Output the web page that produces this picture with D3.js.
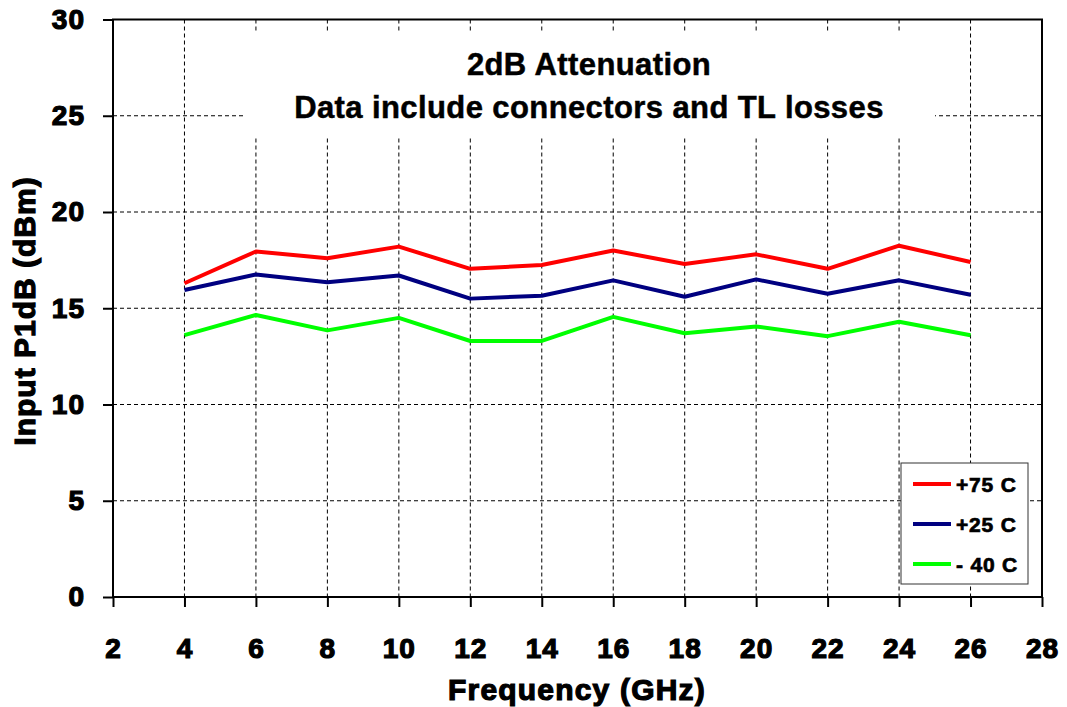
<!DOCTYPE html>
<html>
<head>
<meta charset="utf-8">
<script src="https://cdn.jsdelivr.net/npm/d3@7"></script>
<style>
  html, body { margin: 0; padding: 0; background: #fff; }
  svg { display: block; font-family: "Liberation Sans", Arial, sans-serif; }
</style>
</head>
<body>
<svg id="chart" width="1067" height="707"></svg>
<script>
const frequencies = [4, 6, 8, 10, 12, 14, 16, 18, 20, 22, 24, 26];
const plus75 = [16.3, 17.95, 17.6, 18.2, 17.05, 17.25, 18.0, 17.3, 17.8, 17.05, 18.25, 17.4];
const plus25 = [15.95, 16.75, 16.35, 16.7, 15.5, 15.65, 16.45, 15.6, 16.5, 15.75, 16.45, 15.7];
const minus40 = [13.6, 14.65, 13.85, 14.5, 13.3, 13.3, 14.55, 13.7, 14.05, 13.55, 14.3, 13.6];
const seriesNames = ["+75 C", "+25 C", "- 40 C"];
const seriesColors = ["#ff0000", "#000080", "#00ff00"];
const xTicks = [2, 4, 6, 8, 10, 12, 14, 16, 18, 20, 22, 24, 26, 28];
const yTicks = [0, 5, 10, 15, 20, 25, 30];
const titleLines = ["2dB Attenuation", "Data include connectors and TL losses"];
const xTitle = "Frequency (GHz)";
const yTitle = "Input P1dB (dBm)";

const svg = d3.select("#chart");
const x = d3.scaleLinear().domain([2, 28]).range([113, 1042]);
const y = d3.scaleLinear().domain([0, 30]).range([597, 19.5]);

// grid
const grid = svg.append("g");
grid.selectAll("line.v").data(xTicks.filter(d => d > 2 && d < 28)).join("line")
  .attr("x1", d => x(d)).attr("x2", d => x(d))
  .attr("y1", y(30)).attr("y2", y(0))
  .attr("stroke", "#000").attr("stroke-width", 1).attr("stroke-dasharray", "4,3");
grid.selectAll("line.h").data(yTicks.filter(d => d > 0 && d < 30)).join("line")
  .attr("x1", x(2)).attr("x2", x(28))
  .attr("y1", d => y(d)).attr("y2", d => y(d))
  .attr("stroke", "#000").attr("stroke-width", 1).attr("stroke-dasharray", "4,3");

// title background
svg.append("rect").attr("x", 246).attr("y", 33).attr("width", 689).attr("height", 103).attr("fill", "#fff");

// frame
svg.append("rect").attr("x", x(2)).attr("y", y(30))
  .attr("width", x(28) - x(2)).attr("height", y(0) - y(30))
  .attr("fill", "none").attr("stroke", "#000").attr("stroke-width", 2);

// axes
const heavy = sel => sel.attr("font-weight", "bold").attr("fill", "#000")
  .attr("stroke", "#000").attr("stroke-width", 1.2);

const gx = svg.append("g").attr("transform", `translate(0,${y(0)})`)
  .call(d3.axisBottom(x).tickValues(xTicks).tickSize(10).tickPadding(31).tickFormat(d3.format("d")));
gx.select(".domain").remove();
gx.selectAll(".tick line").attr("stroke", "#000").attr("stroke-width", 2);
gx.selectAll(".tick text").attr("font-size", 28).attr("letter-spacing", 1)
  .attr("font-family", "Liberation Sans, Arial, sans-serif").call(heavy);

const gy = svg.append("g").attr("transform", `translate(${x(2)},0)`)
  .call(d3.axisLeft(y).tickValues(yTicks).tickSize(10).tickPadding(18).tickFormat(d3.format("d")));
gy.select(".domain").remove();
gy.selectAll(".tick line").attr("stroke", "#000").attr("stroke-width", 2);
gy.selectAll(".tick text").attr("font-size", 28).attr("letter-spacing", 1)
  .attr("font-family", "Liberation Sans, Arial, sans-serif").call(heavy);

// series
const allSeries = [plus75, plus25, minus40];
const line = d3.line().x((d, i) => x(frequencies[i])).y(d => y(d));
svg.append("g").selectAll("path").data(allSeries).join("path")
  .attr("d", d => line(d))
  .attr("fill", "none")
  .attr("stroke", (d, i) => seriesColors[i])
  .attr("stroke-width", 4)
  .attr("stroke-linejoin", "round");

// title
svg.append("g").selectAll("text").data(titleLines).join("text")
  .attr("x", 589).attr("y", (d, i) => 75 + i * 43)
  .attr("text-anchor", "middle").attr("font-size", 31).attr("font-weight", "bold")
  .attr("letter-spacing", 0.4)
  .attr("fill", "#000").attr("stroke", "#000").attr("stroke-width", 0.5)
  .text(d => d);

// axis titles
svg.append("text").attr("x", 577).attr("y", 700).attr("text-anchor", "middle")
  .attr("font-size", 30).attr("letter-spacing", 1.2).call(heavy).text(xTitle);
svg.append("text").attr("transform", "translate(35,311) rotate(-90)").attr("text-anchor", "middle")
  .attr("font-size", 30).attr("letter-spacing", 1).call(heavy).text(yTitle);

// legend
const lg = svg.append("g");
lg.append("rect").attr("x", 901).attr("y", 463).attr("width", 127).attr("height", 121)
  .attr("fill", "#fff").attr("stroke", "#333").attr("stroke-width", 1);
const items = lg.selectAll("g.item").data(seriesNames).join("g")
  .attr("transform", (d, i) => `translate(0,${484 + i * 40})`);
items.append("line").attr("x1", 913).attr("x2", 951).attr("y1", 0).attr("y2", 0)
  .attr("stroke", (d, i) => seriesColors[i]).attr("stroke-width", 4);
items.append("text").attr("x", 956).attr("y", 8).attr("font-size", 21).attr("letter-spacing", 0.8)
  .call(heavy).attr("stroke-width", 0.7).text(d => d);
</script>
</body>
</html>
